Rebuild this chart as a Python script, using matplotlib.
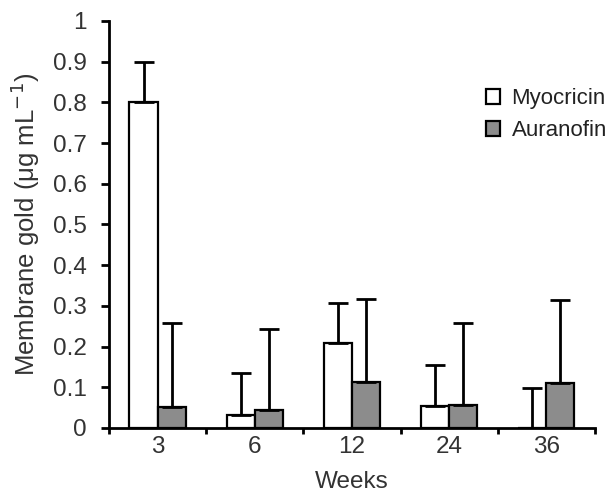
import numpy as np
import matplotlib
matplotlib.use('Agg')
import matplotlib.pyplot as plt

plt.rcParams['font.family'] = ['Liberation Sans', 'DejaVu Sans']

# Membrane gold by week, mean and SD for each drug
weeks = ['3', '6', '12', '24', '36']
myocricin_mean = [0.80, 0.032, 0.21, 0.053, 0.0]
myocricin_sd = [0.10, 0.103, 0.097, 0.102, 0.098]
auranofin_mean = [0.052, 0.043, 0.113, 0.057, 0.11]
auranofin_sd = [0.206, 0.200, 0.204, 0.201, 0.204]

fig = plt.figure(figsize=(6.07, 4.95), dpi=100)
ax = fig.add_axes([0.1796, 0.1354, 0.8004, 0.8222])

x = np.arange(len(weeks)) + 0.5
w = 0.29
lw = 1.6
err_kw = dict(elinewidth=2, capthick=2, ecolor='black')

def upper_only(sd):
    return [np.zeros(len(sd)), sd]

b1 = ax.bar(x - w / 2, myocricin_mean, w, color='white', edgecolor='black',
            linewidth=lw, yerr=upper_only(myocricin_sd), capsize=7,
            error_kw=err_kw, label='Myocricin', zorder=3)
b2 = ax.bar(x + w / 2, auranofin_mean, w, color='#8c8c8c', edgecolor='black',
            linewidth=lw, yerr=upper_only(auranofin_sd), capsize=7,
            error_kw=err_kw, label='Auranofin', zorder=3)

ax.set_xlim(0, len(weeks))
ax.set_ylim(0, 1)

# ticks between groups, labels at group centres
ax.set_xticks(np.arange(len(weeks) + 1))
ax.set_xticklabels([])
ax.set_xticks(x, minor=True)
ax.set_xticklabels(weeks, minor=True)
ax.tick_params(axis='x', which='minor', length=0, pad=6)
ax.tick_params(axis='x', which='major', length=4, width=2, direction='out')

yt = np.round(np.arange(0, 1.01, 0.1), 1)
ax.set_yticks(yt)
ax.set_yticklabels(['0'] + ['%.1f' % v for v in yt[1:-1]] + ['1'])
ax.tick_params(axis='y', length=6, width=2, direction='out', pad=10)
ax.tick_params(axis='both', which='both', labelsize=17.5, labelcolor='#333333')

for s in ['top', 'right']:
    ax.spines[s].set_visible(False)
for s in ['left', 'bottom']:
    ax.spines[s].set_linewidth(2)

ax.set_xlabel('Weeks', fontsize=17.5, color='#333333', labelpad=9)
ax.set_ylabel('Membrane gold (\u03bcg mL$^{-1}$)', fontsize=18.5,
              color='#333333', labelpad=8)

leg = ax.legend(handles=[b1, b2], loc='upper left',
                bbox_to_anchor=(0.786, 0.84), bbox_transform=fig.transFigure,
                frameon=False, fontsize=16, handlelength=0.65,
                handleheight=0.65, handletextpad=0.5, labelspacing=0.5,
                borderaxespad=0)
for t in leg.get_texts():
    t.set_color('#222222')

fig.savefig('out.png', dpi=100)
